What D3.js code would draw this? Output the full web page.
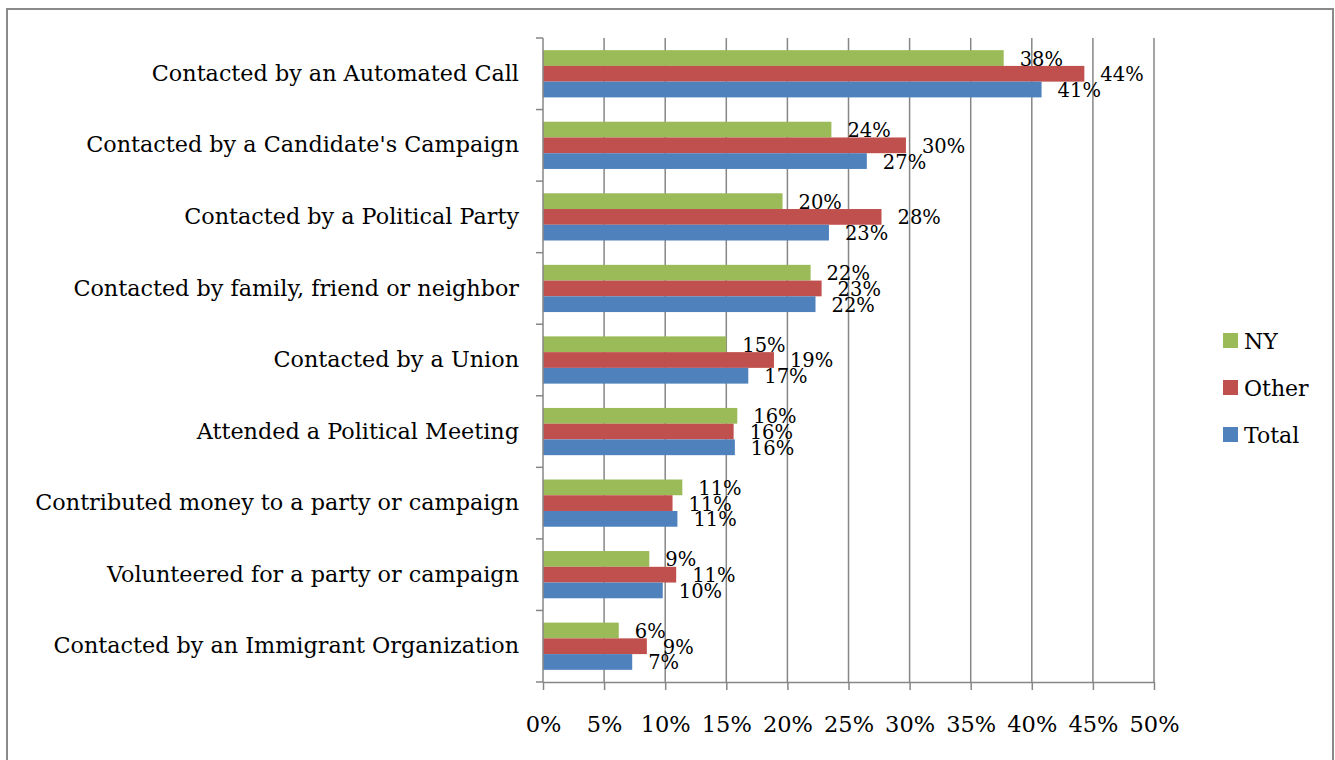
<!DOCTYPE html>
<html><head><meta charset="utf-8">
<script src="https://cdn.jsdelivr.net/npm/d3@7"></script>
<style>body{margin:0;background:#fff}svg{display:block}</style>
</head><body>
<svg id="c" width="1335" height="760"></svg>
<script>
const categories = [
  "Contacted by an Automated Call",
  "Contacted by a Candidate's Campaign",
  "Contacted by a Political Party",
  "Contacted by family, friend or neighbor",
  "Contacted by a Union",
  "Attended a Political Meeting",
  "Contributed money to a party or campaign",
  "Volunteered for a party or campaign",
  "Contacted by an Immigrant Organization"
];
const seriesNames = ["NY", "Other", "Total"];
const nyValues    = [37.7, 23.6, 19.6, 21.9, 15.0, 15.9, 11.4, 8.7, 6.2];
const otherValues = [44.3, 29.7, 27.7, 22.8, 18.9, 15.6, 10.6, 10.9, 8.5];
const totalValues = [40.8, 26.5, 23.4, 22.3, 16.8, 15.7, 11.0, 9.8, 7.3];
const xTicks = [0, 5, 10, 15, 20, 25, 30, 35, 40, 45, 50];
const colors = {NY: "#9BBB59", Other: "#C0504D", Total: "#4F81BD"};

const seriesValues = {NY: nyValues, Other: otherValues, Total: totalValues};
const font = "'DejaVu Serif', serif";
const svg = d3.select("#c");

// outer frame
svg.append("path").attr("d", "M7,770 V9 H1333 V770")
  .attr("fill", "none").attr("stroke", "#8a8a8a").attr("stroke-width", 2);

const x = d3.scaleLinear().domain([0, 50]).range([543, 1154]);
const y = d3.scaleBand().domain(categories).range([38, 682]).padding(0);
const ySub = d3.scaleBand().domain(seriesNames)
  .range([y.bandwidth() * 0.17, y.bandwidth() * 0.83]).padding(0);

// gridlines
svg.append("g").selectAll("line").data(xTicks.slice(1)).join("line")
  .attr("x1", d => x(d)).attr("x2", d => x(d))
  .attr("y1", 38).attr("y2", 682)
  .attr("stroke", "#868686").attr("stroke-width", 1.5);

// bars
const groups = svg.append("g").selectAll("g").data(categories).join("g")
  .attr("transform", c => `translate(0,${y(c)})`);
groups.selectAll("rect").data((c, i) => seriesNames.map(s => ({s, v: seriesValues[s][i]})))
  .join("rect")
  .attr("x", x(0)).attr("y", d => ySub(d.s))
  .attr("width", d => x(d.v) - x(0)).attr("height", ySub.bandwidth())
  .attr("fill", d => colors[d.s]);
groups.selectAll("text").data((c, i) => seriesNames.map(s => ({s, v: seriesValues[s][i]})))
  .join("text")
  .attr("x", d => x(d.v) + 16).attr("y", d => ySub(d.s) + ySub.bandwidth() / 2 + 1)
  .attr("dominant-baseline", "central")
  .attr("font-family", font).attr("font-size", 19.5).attr("fill", "#000")
  .text(d => Math.round(d.v) + "%");

// y axis
const yAxis = d3.axisLeft(y).tickSize(0).tickPadding(24).tickSizeOuter(0);
const gy = svg.append("g").attr("transform", `translate(${x(0)},0)`).call(yAxis);
gy.select(".domain").remove();
gy.selectAll("text").attr("font-family", font).attr("font-size", 22.3).attr("fill", "#000");
// category boundary ticks
const bounds = categories.map(c => y(c)).concat([682]);
svg.append("g").selectAll("line").data(bounds).join("line")
  .attr("x1", x(0) - 7).attr("x2", x(0)).attr("y1", d => d).attr("y2", d => d)
  .attr("stroke", "#868686").attr("stroke-width", 1.5);
svg.append("line").attr("x1", x(0)).attr("x2", x(0)).attr("y1", 38).attr("y2", 682)
  .attr("stroke", "#868686").attr("stroke-width", 1.5);

// x axis
const xAxis = d3.axisBottom(x).tickValues(xTicks).tickFormat(d => d + "%")
  .tickSize(8).tickPadding(26).tickSizeOuter(0);
const gx = svg.append("g").attr("transform", "translate(0,682)").call(xAxis);
gx.select(".domain").attr("stroke", "#868686").attr("stroke-width", 1.5);
gx.selectAll("line").attr("stroke", "#868686").attr("stroke-width", 1.5);
gx.selectAll("text").attr("font-family", font).attr("font-size", 22.5).attr("fill", "#000");

// legend
const lg = svg.append("g").selectAll("g").data(seriesNames).join("g")
  .attr("transform", (d, i) => `translate(1223,${333 + i * 47})`);
lg.append("rect").attr("width", 15).attr("height", 15).attr("fill", d => colors[d]);
lg.append("text").attr("x", 21).attr("y", 8).attr("dominant-baseline", "central")
  .attr("font-family", font).attr("font-size", 22).attr("fill", "#000").text(d => d);
</script>
</body></html>
